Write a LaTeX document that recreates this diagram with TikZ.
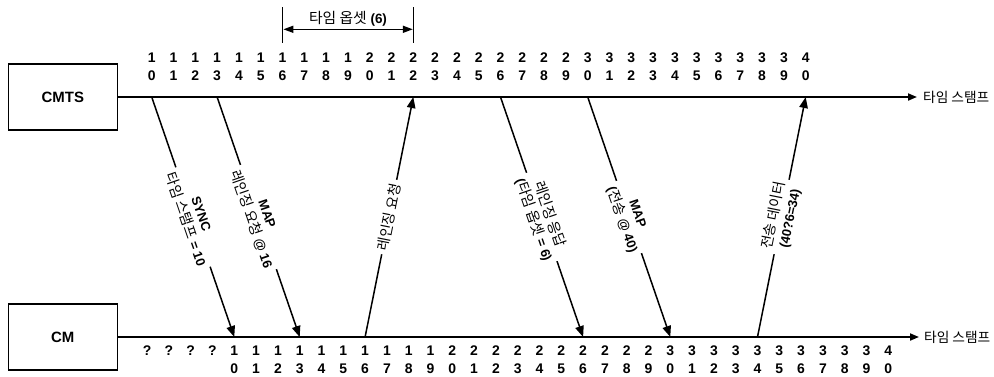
\documentclass[tikz,border=0pt]{standalone}
\usepackage{fontspec}
\setmainfont{Liberation Sans}
\newfontfamily\krfont[Scale=1.1]{Noto Sans CJK KR}
\newcommand\ko[1]{{\krfont\mdseries #1}}
\usetikzlibrary{arrows.meta}
\begin{document}
\begin{tikzpicture}[x=1bp,y=-1bp,
  every node/.style={inner sep=0pt},
  num/.style={font=\bfseries\fontsize{14}{16}\selectfont},
  box/.style={draw, line width=1.5bp, minimum width=109bp, minimum height=66bp, font=\bfseries\fontsize{15}{18}\selectfont},
  axis/.style={line width=1.8bp, -{Triangle[length=9bp,width=7bp]}},
  msg/.style={line width=1.5bp, -{Triangle[length=11bp,width=8.5bp]}},
  lbl/.style={sloped, fill=white, inner sep=3.5bp, align=center, font=\bfseries\fontsize{13}{16.5}\selectfont},
  axlbl/.style={anchor=west, font=\fontsize{12.5}{15}\selectfont},
  bar/.style={line width=1.5bp},
  dbl/.style={line width=1.5bp, {Triangle[length=10bp,width=7bp]}-{Triangle[length=10bp,width=7bp]}}
]
\useasboundingbox (0,0) rectangle (994,376);
\node[box] (cmts) at (62.8,97) {CMTS};
\node[box] (cm) at (62.8,337) {CM};
\coordinate (tend) at (917,97);
\coordinate (bend) at (919,337);
\draw[axis] (cmts.east) -- (tend);
\draw[axis] (cm.east) -- (bend);
\node[axlbl] (tl) at (923,97) {\ko{타임 스탬프}};
\node[axlbl] (bl) at (924,337) {\ko{타임 스탬프}};
\foreach \k in {10,...,40} {
  \pgfmathsetmacro\xa{151.7+(\k-10)*21.8}
  \pgfmathsetmacro\xb{234.3+(\k-10)*21.8}
  \pgfmathtruncatemacro\hi{\k/10}
  \pgfmathtruncatemacro\lo{mod(\k,10)}
  \node[num] (ta\k) at (\xa,58) {\hi};
  \node[num] (tb\k) at (\xa,76) {\lo};
  \coordinate (T\k) at (\xa,97);
  \node[num] (ba\k) at (\xb,351) {\hi};
  \node[num] (bb\k) at (\xb,369) {\lo};
  \coordinate (B\k) at (\xb,337);
}
\foreach \i in {1,...,4} {
  \pgfmathsetmacro\xq{234.3-(5-\i)*21.8}
  \node[num] (q\i) at (\xq,351) {?};
}
% time offset bracket
\coordinate (o1t) at (282.7,7);
\coordinate (o1b) at (282.7,43);
\coordinate (o2t) at (413.5,7);
\coordinate (o2b) at (413.5,43);
\coordinate (oa) at (283.4,29.3);
\coordinate (ob) at (412.8,29.3);
\draw[bar] (o1t) -- (o1b);
\draw[bar] (o2t) -- (o2b);
\draw[dbl] (oa) -- (ob);
\node[font=\bfseries\fontsize{13.5}{16}\selectfont] (olbl) at (348,19) {\ko{타임 옵셋} (6)};
% messages
\draw[msg] (T10) -- node[lbl] (m1) {SYNC\\\ko{타임 스탬프} = 10} (B10);
\draw[msg] (T13) -- node[lbl] (m2) {MAP\\\ko{레인징 요청} @ 16} (B13);
\draw[msg] (B16) -- node[lbl] (m3) {\ko{레인징 요청}} (T22);
\draw[msg] (T26) -- node[lbl] (m4) {\ko{레인징 응답}\\(\ko{타임 옵셋} = 6)} (B26);
\draw[msg] (T30) -- node[lbl] (m5) {MAP\\(\ko{전송} @ 40)} (B30);
\draw[msg] (B34) -- node[lbl] (m6) {\ko{전송 데이터}\\(40?6=34)} (T40);
\end{tikzpicture}
\end{document}
